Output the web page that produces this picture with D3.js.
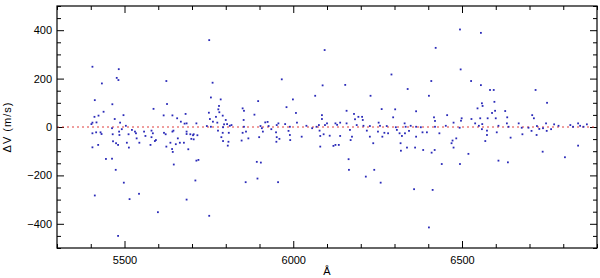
<!DOCTYPE html>
<html>
<head>
<meta charset="utf-8">
<script src="https://cdn.jsdelivr.net/npm/d3@7"></script>
<style>
  body { margin: 0; background: #fff; }
  svg text { font-family: "Liberation Sans", Arial, sans-serif; fill: #000; }
</style>
</head>
<body>
<div id="chart"></div>
<script>
// wavelength (A) of each line
var wave = [
  5405,5483,5477,5482,5433,5624,5412,5464,5438,5586,5626,5423,5417,5471,5497,5616,5642,5681,5656,5678,
  5411,5405,5402,5487,5504,5463,5492,5522,5429,5405,5416,5484,5531,5465,5485,5512,5536,5466,5475,5507,
  5544,5422,5405,5513,5463,5445,5474,
  5432,5534,5558,5584,5562,5580,5593,5622,5642,5658,5684,5703,5698,5481,5577,5590,5624,5636,5641,5652,
  5664,5676,5689,5646,5713,5498,5710,5412,5515,5543,5684,5599,5481,
  5761,5756,5785,5778,5781,5750,5771,5791,5667,5762,5753,5800,5684,5713,5744,5775,5795,5804,5812,5792,
  5756,5580,5617,5645,5684,5695,5705,5716,5777,5791,5809,5705,5792,5808,5643,5806,5719,
  5751,6093,6154,5966,6087,6291,5896,5999,6065,6229,5780,5850,5980,6158,6262,5885,6008,6085,6180,6193,
  6296,5853,5924,5956,6011,6094,6100,6125,6130,6158,6183,6206,6253,6257,5817,5903,5927,5990,6039,6069,
  6076,6227,6277,6304,
  5854,6085,5917,5854,5907,5951,5976,6056,5860,5850,5910,5935,5949,5986,6078,6090,5867,5847,5899,5951,
  5959,6025,5991,6080,6080,5892,5904,5894,
  5751,5859,5955,6164,6165,6240,6259,6215,6125,6135,6237,5787,5950,6108,6174,6170,6227,6264,6281,5990,
  6339,6204,6302,6364,6139,6188,6208,6330,6333,6348,6364,6139,6168,6218,6251,6270,6307,6315,6331,6343,
  6364,6322,6119,6318,6337,6361,6319,
  6494,6556,6422,6496,6409,6527,6556,6583,6594,6718,6402,6596,6752,6546,6561,6598,6628,6417,6456,6499,
  6497,6528,6576,6600,6634,6708,6713,6844,
  6559,6589,6420,6475,6554,6378,6420,6452,6493,6539,6550,6560,6608,6633,6383,6396,6433,6559,6574,6574,
  6603,6483,6472,6469,6475,6569,6385,6419,6410,6519,6440,6494,6608,6636,
  6358,6413,6402,6739,6805,6844,6644,6679,6721,6751,6706,
  6668,6722,6749,6773,6786,6821,6850,6829,6860,6638,6677,6697,6729,6740,6764,6870
];
// velocity difference (m/s)
var dv = [
  249,239,203,194,180,190,111,94,63,75,95,47,19,33,49,48,48,54,36,14,
  42,18,12,18,5,-5,-9,-12,-22,-26,-22,-19,-19,-30,-33,-30,-47,-59,-67,-65,
  -65,-74,-84,-85,-131,-132,-177,
  -29,-26,-19,-26,-37,-42,-54,-30,-19,-47,-29,-34,-49,-74,-74,-58,-81,-65,-91,-71,
  -65,-65,-92,-155,-139,-230,-221,-283,-298,-276,-300,-352,-450,
  183,122,114,73,61,59,42,47,22,22,33,29,15,15,4,18,11,12,5,-1,
  1,-15,-24,-15,-19,-30,-30,-34,-15,-24,-24,-51,-58,-61,-103,-77,-136,
  359,318,174,197,172,217,107,114,129,129,87,77,82,67,74,51,58,49,54,42,
  40,29,21,15,18,8,15,15,9,15,32,29,18,5,8,4,4,1,5,1,
  8,4,4,-1,
  67,33,19,1,-5,8,12,-5,-19,-24,-19,-9,-22,-16,-15,-30,-47,-56,-42,-42,
  -49,-40,-54,-37,-81,-144,-147,-213,
  -367,-228,-228,-133,-177,-177,-230,-205,-74,-74,-67,-42,-61,-36,-40,-54,-40,-40,-26,-33,
  157,42,73,65,18,8,5,15,1,5,1,-37,-12,-15,-19,-24,-12,-26,-26,-16,
  -40,-37,-78,-67,-85,-85,-98,
  403,389,327,238,190,190,173,153,153,153,129,104,100,77,87,67,66,40,49,36,
  26,33,36,36,40,49,36,15,
  98,58,25,18,36,-1,1,5,-3,15,5,12,5,15,-22,-22,-26,-9,-15,-33,
  -22,-47,-56,-67,-85,-58,-95,-95,-106,-111,-153,-153,-139,-146,
  -257,-260,-415,-102,-125,-77,-44,-30,-33,-16,-16,
  15,4,15,11,5,8,5,1,1,1,-3,-3,-8,-5,-9,11
];
var xMajor = [5500, 6000, 6500];
var yMajor = [-400, -200, 0, 200, 400];
var xLabel = "\u00C5";
var yLabel = "\u0394V (m/s)";

var data = wave.map(function(w, i) { return {w: w, v: dv[i]}; });

var margin = {top: 6, right: 3, bottom: 30, left: 57},
    W = 600, H = 278,
    width = W - margin.left - margin.right,
    height = H - margin.top - margin.bottom;

var x = d3.scaleLinear().domain([5300, 6900]).range([0, width]);
var y = d3.scaleLinear().domain([-500, 500]).range([height, 0]);

var svg = d3.select("#chart").append("svg")
    .attr("width", W).attr("height", H)
  .append("g")
    .attr("transform", "translate(" + margin.left + "," + margin.top + ")");

var xMinor = d3.range(5300, 6901, 100).filter(function(d) { return xMajor.indexOf(d) < 0; });
var yMinor = d3.range(-500, 501, 50).filter(function(d) { return yMajor.indexOf(d) < 0; });

function addAxis(axis, tx, ty) {
  var g = svg.append("g").attr("transform", "translate(" + tx + "," + ty + ")").call(axis);
  g.select(".domain").remove();
  g.selectAll("line").attr("stroke", "#000");
  g.selectAll("text").style("font-size", "11px");
  return g;
}

// major + minor ticks, pointing inward on all four sides
addAxis(d3.axisBottom(x).tickValues(xMajor).tickSize(-7).tickPadding(8).tickFormat(d3.format("d")), 0, height);
addAxis(d3.axisBottom(x).tickValues(xMinor).tickSize(-4).tickFormat(""), 0, height);
addAxis(d3.axisTop(x).tickValues(xMajor).tickSize(-7).tickFormat(""), 0, 0);
addAxis(d3.axisTop(x).tickValues(xMinor).tickSize(-4).tickFormat(""), 0, 0);
addAxis(d3.axisLeft(y).tickValues(yMajor).tickSize(-7).tickPadding(5).tickFormat(d3.format("d")), 0, 0);
addAxis(d3.axisLeft(y).tickValues(yMinor).tickSize(-4).tickFormat(""), 0, 0);
addAxis(d3.axisRight(y).tickValues(yMajor).tickSize(-7).tickFormat(""), width, 0);
addAxis(d3.axisRight(y).tickValues(yMinor).tickSize(-4).tickFormat(""), width, 0);

// zero line
svg.append("line")
    .attr("x1", 0).attr("x2", width)
    .attr("y1", y(0)).attr("y2", y(0))
    .attr("stroke", "#e03c3c")
    .attr("stroke-width", 1)
    .attr("stroke-dasharray", "2,3");

svg.selectAll("rect.pt")
    .data(data)
  .enter().append("rect")
    .attr("class", "pt")
    .attr("x", function(d) { return x(d.w) - 0.9; })
    .attr("y", function(d) { return y(d.v) - 0.9; })
    .attr("width", 1.8)
    .attr("height", 1.8)
    .attr("fill", "#2a2ab8");

// frame
svg.append("rect")
    .attr("width", width).attr("height", height)
    .attr("fill", "none").attr("stroke", "#000").attr("stroke-width", 1.2);

svg.append("text")
    .attr("x", width / 2).attr("y", height + 27)
    .attr("text-anchor", "middle")
    .style("font-size", "11px")
    .text(xLabel);

svg.append("text")
    .attr("transform", "translate(" + (-46) + "," + (height / 2) + ") rotate(-90)")
    .attr("text-anchor", "middle")
    .style("font-size", "11px")
    .style("letter-spacing", "1px")
    .text(yLabel);
</script>
</body>
</html>
